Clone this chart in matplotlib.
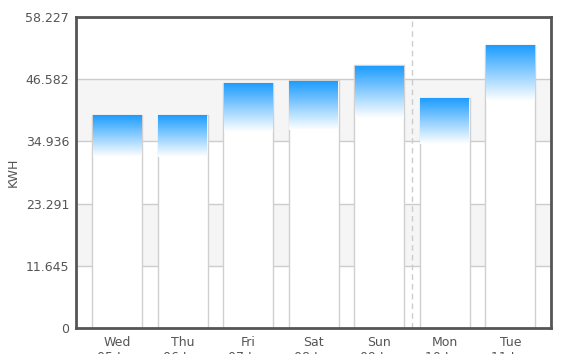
import numpy as np
import matplotlib
matplotlib.use('Agg')
import matplotlib.pyplot as plt
from matplotlib.colors import LinearSegmentedColormap

# daily energy use
days = ['Wed', 'Thu', 'Fri', 'Sat', 'Sun', 'Mon', 'Tue']
dates = ['05 Jun', '06 Jun', '07 Jun', '08 Jun', '09 Jun', '10 Jun', '11 Jun']
kwh = [39.9, 39.9, 45.8, 46.4, 49.2, 43.0, 53.0]
yticks = [0, 11.645, 23.291, 34.936, 46.582, 58.227]
ytick_labels = ['0', '11.645', '23.291', '34.936', '46.582', '58.227']

txt = '#555555'
fig = plt.figure(figsize=(5.68, 3.54), dpi=100)
ax = fig.add_axes([0.1338, 0.0734, 0.837, 0.879])

x = np.arange(len(days))

# alternating bands
for i in range(len(yticks) - 1):
    if i % 2 == 1:
        ax.axhspan(yticks[i], yticks[i + 1], color='#f5f5f5', zorder=0, lw=0)
for yv in yticks[1:-1]:
    ax.axhline(yv, color='#cccccc', lw=1, zorder=1)

ax.axvline(4.5, color='#cccccc', lw=1, ls=(0, (4, 3)), zorder=1)

w = 0.763
cmap = LinearSegmentedColormap.from_list('bl', ['#ffffff', '#1e9dff'])
grad = np.linspace(0, 1, 100).reshape(-1, 1)
for xi, v in zip(x, kwh):
    ax.bar(xi, v, width=w, color='white', edgecolor='#d0d0d0', lw=1, zorder=2)
    ax.imshow(grad, cmap=cmap, origin='lower', aspect='auto',
              extent=[xi - w / 2 + 0.01, xi + w / 2 - 0.01, v * 0.8, v - 0.15], zorder=3)
ax.set_xlim(-0.626, len(days) - 1 + 0.626)
ax.set_ylim(0, yticks[-1])

ax.set_yticks(yticks)
ax.set_yticklabels(ytick_labels)
ax.set_xticks(x)
ax.set_xticklabels([d + '\n' + dt for d, dt in zip(days, dates)], linespacing=1.2)
ax.tick_params(axis='y', length=0, labelsize=9, labelcolor=txt, pad=5)
ax.tick_params(axis='x', length=0, labelsize=9, labelcolor=txt, pad=6)
ax.set_ylabel('KWH', fontsize=9, color=txt)
ax.yaxis.set_label_coords(-0.118, 0.5)

for s in ax.spines.values():
    s.set_color('#555555')
    s.set_linewidth(2)
    s.set_zorder(5)

fig.savefig('out.png', dpi=100)
